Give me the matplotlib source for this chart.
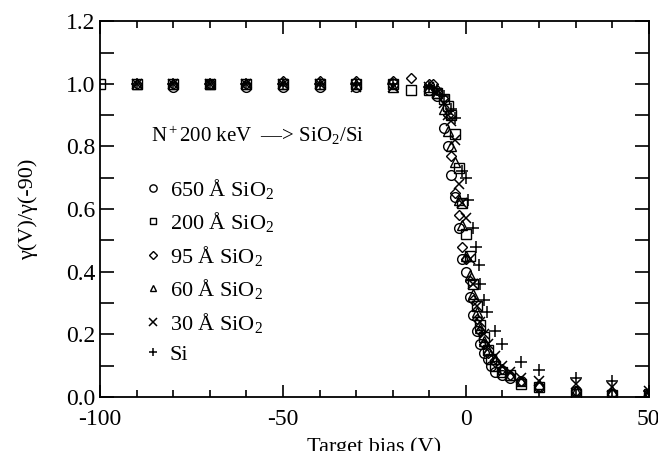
import matplotlib
matplotlib.use("Agg")
import matplotlib.pyplot as plt
from matplotlib.ticker import MultipleLocator

plt.rcParams['font.family'] = ['Liberation Serif', 'DejaVu Serif']
plt.rcParams['mathtext.fontset'] = 'custom'
plt.rcParams['mathtext.rm'] = 'Liberation Serif'
plt.rcParams['mathtext.it'] = 'Liberation Serif:italic'
plt.rcParams['axes.unicode_minus'] = False

# 650 A SiO2 (circles)
x650 = [-80, -70, -60, -50, -40, -30, -20, -10, -8, -6, -5, -4, -3, -2, -1, 0, 1, 2, 3, 4, 5, 6, 7, 8, 10, 12, 15, 20, 30, 40, 50]
y650 = [0.99, 1.0, 0.99, 0.99, 0.99, 0.99, 1.0, 0.98, 0.96, 0.86, 0.80, 0.71, 0.64, 0.54, 0.44, 0.40, 0.32, 0.26, 0.21, 0.17, 0.14, 0.12, 0.10, 0.08, 0.07, 0.06, 0.05, 0.03, 0.02, 0.01, 0.01]
# 200 A SiO2 (squares)
x200 = [-100, -90, -80, -70, -60, -50, -40, -30, -20, -15, -10, -8, -6, -5, -4, -3, -2, -1, 0, 1, 2, 3, 4, 5, 6, 7, 8, 10, 12, 15, 20, 30, 40, 50]
y200 = [1.0, 1.0, 1.0, 1.0, 1.0, 1.0, 1.0, 1.0, 1.0, 0.98, 0.98, 0.97, 0.95, 0.93, 0.90, 0.84, 0.73, 0.62, 0.52, 0.45, 0.36, 0.29, 0.23, 0.19, 0.15, 0.12, 0.10, 0.08, 0.07, 0.04, 0.03, 0.01, 0.005, 0.01]
# 95 A SiO2 (diamonds)
x95 = [-90, -80, -70, -60, -50, -40, -30, -20, -15, -10, -9, -8, -6, -5, -4, -3, -2, -1, 0, 1, 2, 3, 4, 5, 6, 8, 10, 12, 15, 20, 30, 40, 50]
y95 = [1.0, 1.0, 1.0, 1.0, 1.01, 1.01, 1.01, 1.01, 1.02, 1.0, 1.0, 0.98, 0.95, 0.90, 0.77, 0.65, 0.58, 0.48, 0.44, 0.37, 0.31, 0.25, 0.21, 0.17, 0.14, 0.11, 0.09, 0.07, 0.05, 0.03, 0.02, 0.01, 0.01]
# 60 A SiO2 (triangles)
x60 = [-90, -80, -70, -60, -50, -40, -30, -20, -10, -8, -6, -5, -4, -3, -2, -1, 0, 1, 2, 3, 4, 5, 6, 8, 10, 12, 15, 20, 30, 40, 50]
y60 = [1.0, 1.0, 1.0, 1.0, 1.0, 1.0, 1.0, 0.99, 0.99, 0.97, 0.92, 0.85, 0.80, 0.75, 0.63, 0.55, 0.45, 0.39, 0.33, 0.27, 0.22, 0.18, 0.15, 0.12, 0.09, 0.07, 0.05, 0.04, 0.02, 0.02, 0.01]
# 30 A SiO2 (crosses)
x30 = [-90, -80, -70, -60, -50, -40, -30, -20, -10, -8, -6, -5, -4, -3, -2, -1, 0, 1, 2, 3, 4, 5, 6, 8, 10, 12, 15, 20, 30, 40, 50]
y30 = [1.0, 1.0, 1.0, 1.0, 1.0, 1.0, 0.99, 0.99, 0.99, 0.97, 0.94, 0.90, 0.88, 0.82, 0.68, 0.62, 0.57, 0.44, 0.36, 0.29, 0.24, 0.20, 0.17, 0.13, 0.10, 0.08, 0.06, 0.05, 0.04, 0.03, 0.02]
# Si (plus)
xSi = [-90, -80, -70, -60, -50, -40, -30, -20, -10, -8, -6, -4, -3, -1, 0, 0.5, 2, 2.7, 3.5, 3.8, 5, 5.8, 8, 10, 15, 20, 30, 40, 50]
ySi = [1.0, 1.0, 1.0, 1.0, 1.0, 1.0, 1.0, 1.0, 0.99, 0.98, 0.96, 0.92, 0.89, 0.72, 0.70, 0.63, 0.54, 0.48, 0.42, 0.36, 0.31, 0.27, 0.21, 0.17, 0.11, 0.086, 0.06, 0.05, 0.02]

series = [
    (x650, y650, 'o', 7, '650 Å SiO$_2$'),
    (x200, y200, 's', 6.5, '200 Å SiO$_2$'),
    (x95, y95, 'D', 5.5, '95 Å SiO$_2$'),
    (x60, y60, '^', 6.5, '60 Å SiO$_2$'),
    (x30, y30, 'x', 7, '30 Å SiO$_2$'),
    (xSi, ySi, '+', 8, 'Si'),
]

fig = plt.figure(figsize=(6.58, 4.51), dpi=100)
ax = fig.add_axes([0.152, 0.120, 0.834, 0.833])

for x, y, m, s, lab in series:
    if m in ('x', '+'):
        ax.plot(x, y, linestyle='none', marker=m, markersize=s, color='black',
                markeredgewidth=1.1, label=lab)
    else:
        ax.plot(x, y, linestyle='none', marker=m, markersize=s, markerfacecolor='none',
                markeredgecolor='black', markeredgewidth=1.0, label=lab)

ax.set_xlim(-100, 50)
ax.set_ylim(0, 1.2)
ax.xaxis.set_major_locator(MultipleLocator(50))
ax.xaxis.set_minor_locator(MultipleLocator(10))
ax.yaxis.set_major_locator(MultipleLocator(0.2))
ax.yaxis.set_minor_locator(MultipleLocator(0.1))
ax.yaxis.set_major_formatter(plt.FuncFormatter(lambda v, p: f"{v:.1f}"))
ax.tick_params(which='both', direction='in', top=True, right=True, labelsize=17, width=1.2)
ax.tick_params(which='major', axis='x', length=9)
ax.tick_params(which='minor', axis='x', length=5)
ax.tick_params(which='both', axis='y', length=10)
ax.tick_params(axis='x', pad=9)
for sp in ax.spines.values():
    sp.set_linewidth(1.3)

ax.set_xlabel('Target bias (V)', fontsize=16, labelpad=5)
ax.set_ylabel('γ(V)/γ(-90)', fontsize=16, labelpad=20)

ax.text(-86, 0.815, 'N$^+$200 keV  —> SiO$_2$/Si', fontsize=15)

leg = ax.legend(loc='upper left', bbox_to_anchor=(0.06, 0.61), frameon=False,
                fontsize=16, handletextpad=0.25, labelspacing=0.43, markerscale=0.75,
                handlelength=1.0, borderaxespad=0)

fig.savefig('out.png', dpi=100)
